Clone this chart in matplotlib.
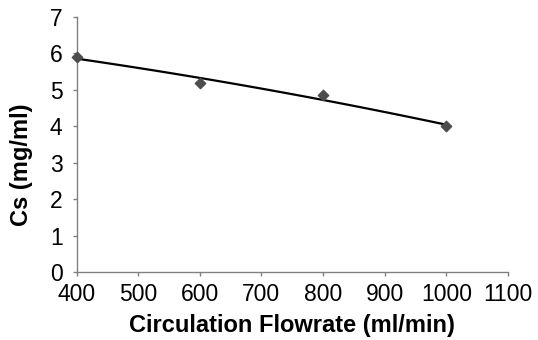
import numpy as np
import matplotlib
matplotlib.use("Agg")
import matplotlib.pyplot as plt

# measured points
flowrate = [400, 600, 800, 1000]
cs = [5.9, 5.2, 4.85, 4.0]

x_ticks = [400, 500, 600, 700, 800, 900, 1000, 1100]
y_ticks = [0, 1, 2, 3, 4, 5, 6, 7]

plt.rcParams['font.family'] = ['Liberation Sans', 'DejaVu Sans']

fig = plt.figure(figsize=(5.38, 3.4), dpi=100)
ax = fig.add_axes([0.1422, 0.2, 0.802, 0.75])

# 2nd order polynomial trendline, like the spreadsheet one
coef = np.polyfit(flowrate, cs, 2)
xs = np.linspace(min(flowrate), max(flowrate), 100)
ax.plot(xs, np.polyval(coef, xs), color='black', lw=1.6, zorder=2)

ax.scatter(flowrate, cs, marker='D', s=28, color='#4d4d4d', zorder=3,
           clip_on=False)

ax.set_xlim(400, 1100)
ax.set_ylim(0, 7)
ax.set_xticks(x_ticks)
ax.set_yticks(y_ticks)

for side in ['top', 'right']:
    ax.spines[side].set_visible(False)
for side in ['left', 'bottom']:
    ax.spines[side].set_color('#808080')
    ax.spines[side].set_linewidth(1.0)

ax.tick_params(direction='out', length=3, width=1.0, color='#808080',
               labelsize=16.5)
ax.tick_params(axis='x', pad=5)
ax.tick_params(axis='y', pad=7)

ax.set_xlabel('Circulation Flowrate (ml/min)', fontsize=17,
              fontweight='bold')
ax.set_ylabel('Cs (mg/ml)', fontsize=17, fontweight='bold')
ax.xaxis.set_label_coords(0.50, -0.165)
ax.yaxis.set_label_coords(-0.10, 0.42)

fig.savefig('out.png', dpi=100)
